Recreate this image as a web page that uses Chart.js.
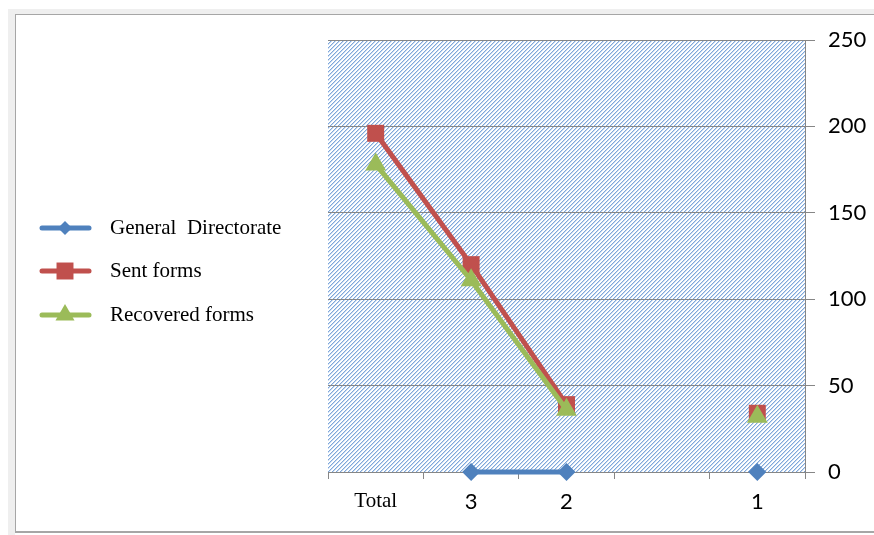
<!DOCTYPE html>
<html><head><meta charset="utf-8">
<script src="https://cdn.jsdelivr.net/npm/chart.js@4.4.1/dist/chart.umd.min.js"></script>
<style>
html,body{margin:0;padding:0;background:#fff;}
#wrap{position:relative;width:874px;height:535px;overflow:hidden;background:#fff;}
canvas{position:absolute;left:0;top:0;}
.frame{position:absolute;pointer-events:none;}
</style></head><body>
<div id="wrap">
<div class="frame" style="left:8px;top:9px;width:7px;height:526px;background:#efefef"></div>
<div class="frame" style="left:8px;top:9px;width:866px;height:5px;background:#efefef"></div>
<div class="frame" style="left:15px;top:14px;width:1px;height:518px;background:#a6a6a6"></div>
<div class="frame" style="left:15px;top:14px;width:859px;height:1px;background:#a6a6a6"></div>
<div class="frame" style="left:15px;top:531px;width:859px;height:2px;background:#a6a6a6"></div>
<canvas id="c" width="874" height="535"></canvas>
</div>
<script>
// Categories along the bottom axis (one empty slot between "2" and "1")
const categories = ['Total', '3', '2', '', '1'];
// Series values
const generalDirectorate = [null, 0, 0, null, 0];
const sentForms = [196, 120, 39, null, 34];
const recoveredForms = [178, 111, 36, null, 32];
// Value axis ticks
const yTicks = [0, 50, 100, 150, 200, 250];

const serifFont = 'Liberation Serif, Times New Roman, serif';
const sansFont = 'Lato, Carlito, sans-serif';

// Diagonal hatch used to fill the plot area
function makeHatch() {
  const t = document.createElement('canvas');
  t.width = 4; t.height = 4;
  const g = t.getContext('2d');
  g.fillStyle = '#ffffff';
  g.fillRect(0, 0, 4, 4);
  for (let i = 0; i < 4; i++) {
    g.fillStyle = '#7fa7da';
    g.fillRect(i, 3 - i, 1, 1);
    g.fillStyle = '#c9dbf1';
    g.fillRect((i + 1) % 4, 3 - i, 1, 1);
  }
  return g.createPattern(t, 'repeat');
}

const hatchPlugin = {
  id: 'hatchBg',
  beforeDraw(chart) {
    const a = chart.chartArea;
    const ctx = chart.ctx;
    ctx.save();
    ctx.fillStyle = makeHatch();
    ctx.fillRect(a.left, a.top, a.right - a.left, a.bottom - a.top);
    ctx.restore();
  }
};

// Legend at the left: line sample with marker, then the series name
const sideLegend = {
  id: 'sideLegend',
  afterDraw(chart) {
    const ctx = chart.ctx;
    const rows = [228, 271, 315];
    chart.data.datasets.forEach((ds, i) => {
      const y = rows[i];
      ctx.save();
      ctx.strokeStyle = ds.borderColor;
      ctx.lineWidth = 5;
      ctx.lineCap = 'round';
      ctx.beginPath();
      ctx.moveTo(42, y);
      ctx.lineTo(89, y);
      ctx.stroke();
      ctx.fillStyle = ds.borderColor;
      Chart.helpers.drawPoint(ctx, {pointStyle: ds.pointStyle, radius: ds.legendRadius, borderWidth: 0, rotation: 0}, 65, y);
      ctx.fillStyle = '#000';
      ctx.font = '21px ' + serifFont;
      ctx.textBaseline = 'middle';
      ctx.fillText(ds.label, 110, y);
      ctx.restore();
    });
  }
};

const blue = '#4f81bd', red = '#c0504d', green = '#9bbb59';

new Chart(document.getElementById('c'), {
  type: 'line',
  data: {
    labels: categories,
    datasets: [
      {label: 'General  Directorate', data: generalDirectorate, borderColor: blue, backgroundColor: blue,
       borderWidth: 5, pointStyle: 'rectRot', pointRadius: 9, legendRadius: 7, pointBorderWidth: 0, clip: false, order: 2},
      {label: 'Sent forms', data: sentForms, borderColor: red, backgroundColor: red,
       borderWidth: 5, pointStyle: 'rect', pointRadius: 12, legendRadius: 12, pointBorderWidth: 0, clip: false, order: 1},
      {label: 'Recovered forms', data: recoveredForms, borderColor: green, backgroundColor: green,
       borderWidth: 5, pointStyle: 'triangle', pointRadius: 12, legendRadius: 11, pointBorderWidth: 0, clip: false, order: 0}
    ]
  },
  options: {
    responsive: false,
    animation: false,
    spanGaps: false,
    layout: {padding: {left: 328, top: 40, right: 0, bottom: 0}},
    plugins: {legend: {display: false}, tooltip: {enabled: false}},
    scales: {
      x: {
        type: 'category',
        offset: true,
        grid: {offset: true, drawOnChartArea: false, tickLength: 7, color: '#868686'},
        border: {display: true, color: '#868686'},
        ticks: {
          color: '#000',
          padding: 10,
          font: (ctx) => ctx.index === 0 ? {family: serifFont, size: 21} : {family: sansFont, size: 22}
        },
        afterFit: (s) => { s.height = 63; }
      },
      y: {
        position: 'right',
        min: yTicks[0],
        max: yTicks[yTicks.length - 1],
        afterBuildTicks: (s) => { s.ticks = yTicks.map(v => ({value: v})); },
        grid: {color: '#868686', tickLength: 10},
        border: {display: true, color: '#868686'},
        ticks: {color: '#000', padding: 13, font: {family: sansFont, size: 22}},
        afterFit: (s) => { s.width = 69; }
      }
    }
  },
  plugins: [hatchPlugin, sideLegend]
});
</script>
</body></html>
